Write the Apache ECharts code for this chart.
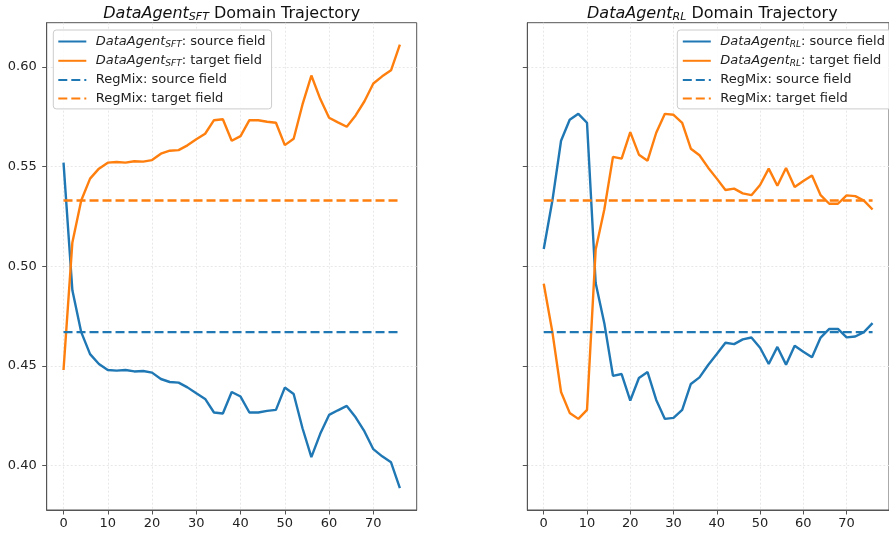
<!DOCTYPE html>
<html>
<head>
<meta charset="utf-8">
<script src="https://cdn.jsdelivr.net/npm/echarts@6/dist/echarts.min.js"></script>
<style>
html,body{margin:0;padding:0;background:#fff;}
#c{width:889px;height:533px;}
</style>
</head>
<body>
<div id="c"></div>
<script>
const steps = [0,2,4,6,8,10,12,14,16,18,20,22,24,26,28,30,32,34,36,38,40,42,44,46,48,50,52,54,56,58,60,62,64,66,68,70,72,74,76];
const sftSource = [0.552,0.488,0.467,0.456,0.451,0.448,0.4477,0.448,0.4473,0.4475,0.4467,0.4435,0.442,0.4417,0.4393,0.4363,0.4335,0.4267,0.4262,0.437,0.4347,0.4267,0.4267,0.4275,0.428,0.4392,0.436,0.4188,0.4043,0.416,0.4255,0.4278,0.43,0.4243,0.4172,0.4083,0.4047,0.4017,0.3888];
const sftTarget = [0.448,0.512,0.533,0.544,0.549,0.552,0.5523,0.552,0.5527,0.5525,0.5533,0.5565,0.558,0.5583,0.5607,0.5637,0.5665,0.5733,0.5738,0.563,0.5653,0.5733,0.5733,0.5725,0.572,0.5608,0.564,0.5812,0.5957,0.584,0.5745,0.5722,0.57,0.5757,0.5828,0.5917,0.5953,0.5983,0.6112];
const rlSource = [0.5087,0.533,0.563,0.5735,0.5765,0.572,0.4916,0.4715,0.4451,0.446,0.4327,0.444,0.447,0.433,0.4235,0.424,0.428,0.441,0.4443,0.4505,0.456,0.4617,0.461,0.4634,0.4643,0.4592,0.451,0.4596,0.4507,0.4602,0.4572,0.4544,0.4643,0.4686,0.4686,0.4644,0.4648,0.467,0.4715];
const rlTarget = [0.4913,0.467,0.437,0.4265,0.4235,0.428,0.5084,0.5285,0.5549,0.554,0.5673,0.556,0.553,0.567,0.5765,0.576,0.572,0.559,0.5557,0.5495,0.544,0.5383,0.539,0.5366,0.5357,0.5408,0.549,0.5404,0.5493,0.5398,0.5428,0.5456,0.5357,0.5314,0.5314,0.5356,0.5352,0.533,0.5285];
const regmixSource = 0.467;
const regmixTarget = 0.533;
const regmixSpan = [0, 76];
const xTicks = [0,10,20,30,40,50,60,70];
const yTicks = [0.40,0.45,0.50,0.55,0.60];
const panelTitles = ['SFT','RL'];

const FONT = 'DejaVu Sans';
const BLUE = '#1f77b4', ORANGE = '#ff7f0e';
const AX = '#555';

function pairs(xs, ys){ return xs.map((x,i)=>[x, ys[i]]); }
function flat(v){ return regmixSpan.map(x=>[x, v]); }

const grids = [
  {left: 46.7, top: 22.7, width: 370, height: 487.3},
  {left: 527.3, top: 22.7, width: 370, height: 487.3}
];

function xAxis(i){
  return {
    type:'value', gridIndex:i, min:-3.8, max:79.8,
    axisLine:{show:true, onZero:false, lineStyle:{color:AX, width:1}},
    axisTick:{show:true, length:4.5, customValues:xTicks, lineStyle:{color:AX}},
    axisLabel:{customValues:xTicks, fontFamily:FONT, fontSize:13, color:'#222', margin:7},
    splitLine:{show:true, lineStyle:{color:'#e3e3e3', width:0.8, type:[2,2]}}
  };
}
function yAxis(i){
  return {
    type:'value', gridIndex:i, min:0.3778, max:0.6222,
    axisLine:{show:true, onZero:false, lineStyle:{color:AX, width:1}},
    axisTick:{show:true, length:4.5, customValues:yTicks, lineStyle:{color:AX}},
    axisLabel:{show: i===0, customValues:yTicks, fontFamily:FONT, fontSize:13, color:'#222', margin:10,
      formatter: v => Number(v).toFixed(2)},
    splitLine:{show:true, lineStyle:{color:'#e3e3e3', width:0.8, type:[2,2]}}
  };
}

function lineSeries(name, data, color, gi, dashed){
  return {
    type:'line', name, data, xAxisIndex:gi, yAxisIndex:gi,
    symbol:'none', showSymbol:false, animation:false, clip:true,
    lineStyle:{color, width:2.4, type: dashed ? [9,4] : 'solid'},
    itemStyle:{color},
    emphasis:{disabled:true}
  };
}

const series = [];
const legends = [];
panelTitles.forEach((tag, gi) => {
  const srcName = 'DataAgent_' + tag + ': source field';
  const tgtName = 'DataAgent_' + tag + ': target field';
  const src = gi===0 ? sftSource : rlSource;
  const tgt = gi===0 ? sftTarget : rlTarget;
  series.push(lineSeries(srcName, pairs(steps, src), BLUE, gi, false));
  series.push(lineSeries(tgtName, pairs(steps, tgt), ORANGE, gi, false));
  series.push(lineSeries('RegMix: source field', flat(regmixSource), BLUE, gi, true));
  series.push(lineSeries('RegMix: target field', flat(regmixTarget), ORANGE, gi, true));
  legends.push({
    data:[srcName, tgtName, 'RegMix: source field', 'RegMix: target field'],
    orient:'vertical',
    left: gi===0 ? 53.3 : 677.3, top: 30,
    itemWidth:28, itemHeight:15, itemGap:5.3,
    padding: gi===0 ? [5,6,4,4] : [5,20,4,4.5],
    backgroundColor:'rgba(255,255,255,0.85)',
    borderColor:'#cccccc', borderWidth:1, borderRadius:3,
    selectedMode:false,
    itemStyle:{opacity:0},
    textStyle:{fontFamily:FONT, fontSize:13, color:'#222', padding:[0,0,0,4.5],
      rich:{
        i:{fontFamily:FONT, fontSize:13, fontStyle:'italic', color:'#222'},
        s:{fontFamily:FONT, fontSize:9, fontStyle:'italic', color:'#222', padding:[6,0,0,0]},
        n:{fontFamily:FONT, fontSize:13, color:'#222'}
      }},
    formatter: name => {
      const m = name.match(/^DataAgent_(\w+)(: .*)$/);
      if (m) return '{i|DataAgent}{s|' + m[1] + '}{n|' + m[2] + '}';
      return '{n|' + name + '}';
    }
  });
});

const titles = panelTitles.map((tag, gi) => ({
  text: '{i|DataAgent}{s|' + tag + '}{n| Domain Trajectory}',
  left: grids[gi].left + grids[gi].width/2 - 5,
  textAlign:'center',
  top: 0,
  textStyle:{
    fontWeight:'normal',
    rich:{
      i:{fontFamily:FONT, fontSize:16, fontStyle:'italic', fontWeight:'normal', color:'#111'},
      s:{fontFamily:FONT, fontSize:11, fontStyle:'italic', fontWeight:'normal', color:'#111', padding:[7,0,0,0]},
      n:{fontFamily:FONT, fontSize:16, fontWeight:'normal', color:'#111'}
    }
  }
}));

const chart = echarts.init(document.getElementById('c'), null, {renderer:'canvas'});
chart.setOption({
  animation:false,
  backgroundColor:'#fff',
  title: titles,
  grid: grids.map(g => Object.assign({show:true, borderColor:AX, borderWidth:1, backgroundColor:'transparent'}, g)),
  xAxis: [xAxis(0), xAxis(1)],
  yAxis: [yAxis(0), yAxis(1)],
  legend: legends,
  series
});
</script>
</body>
</html>
